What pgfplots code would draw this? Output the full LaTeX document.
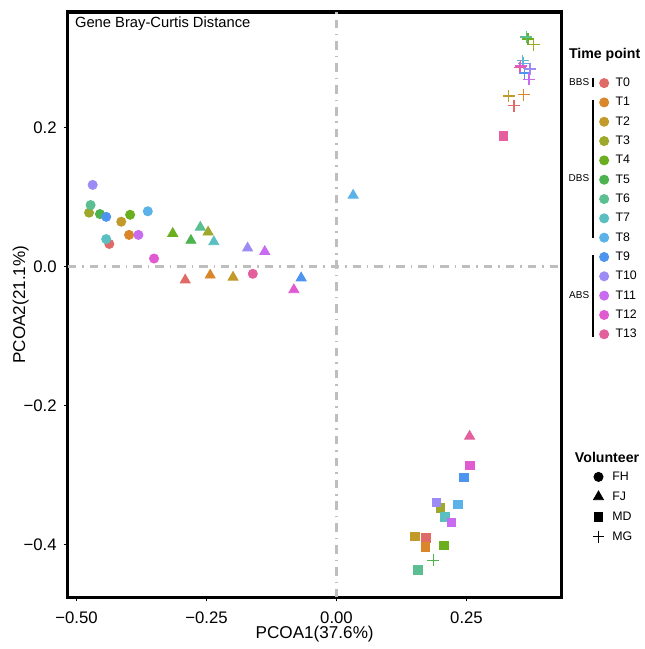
\documentclass[border=0pt]{standalone}
\usepackage{fontspec}
\setmainfont{Liberation Sans}
\usepackage{pgfplots}
\usepackage{pgfplotstable}
\pgfplotsset{compat=1.18}

\definecolor{cT0}{HTML}{E06A66}
\definecolor{cT1}{HTML}{D9872A}
\definecolor{cT2}{HTML}{C29A2A}
\definecolor{cT3}{HTML}{9EA82A}
\definecolor{cT4}{HTML}{6BAF1F}
\definecolor{cT5}{HTML}{4DB34E}
\definecolor{cT6}{HTML}{5CBF92}
\definecolor{cT7}{HTML}{5BBFC2}
\definecolor{cT8}{HTML}{5BB2E8}
\definecolor{cT9}{HTML}{4C94F0}
\definecolor{cT10}{HTML}{9D8BF5}
\definecolor{cT11}{HTML}{C86BF0}
\definecolor{cT12}{HTML}{E05AD2}
\definecolor{cT13}{HTML}{E3609C}
\definecolor{refgrey}{HTML}{BEBEBE}

% volunteer FH (circles)
\pgfplotstableread{
x y t
-0.437 0.033 T0
-0.399 0.046 T1
-0.414 0.065 T2
-0.476 0.078 T3
-0.397 0.075 T4
-0.455 0.076 T5
-0.473 0.089 T6
-0.443 0.040 T7
-0.363 0.080 T8
-0.443 0.072 T9
-0.469 0.118 T10
-0.381 0.046 T11
-0.351 0.012 T12
-0.161 -0.010 T13
}\fh

% volunteer FJ (triangles)
\pgfplotstableread{
x y t
-0.291 -0.019 T0
-0.243 -0.012 T1
-0.199 -0.015 T2
-0.247 0.050 T3
-0.315 0.048 T4
-0.280 0.038 T5
-0.262 0.057 T6
-0.236 0.036 T7
0.032 0.103 T8
-0.068 -0.016 T9
-0.171 0.027 T10
-0.138 0.022 T11
-0.082 -0.033 T12
0.256 -0.244 T13
}\fj

% volunteer MD (squares)
\pgfplotstableread{
x y t
0.172 -0.390 T0
0.171 -0.403 T1
0.151 -0.388 T2
0.200 -0.347 T3
0.206 -0.401 T4
0.157 -0.436 T6
0.208 -0.360 T7
0.234 -0.342 T8
0.245 -0.303 T9
0.192 -0.339 T10
0.221 -0.368 T11
0.256 -0.286 T12
0.321 0.188 T13
}\md

% volunteer MG (crosses)
\pgfplotstableread{
x y t
0.341 0.232 T0
0.360 0.248 T1
0.331 0.246 T2
0.379 0.320 T3
0.368 0.328 T4
0.186 -0.4225 T5
0.365 0.331 T6
0.358 0.297 T7
0.360 0.293 T8
0.362 0.279 T9
0.372 0.285 T10
0.370 0.270 T11
0.354 0.289 T12
0.352 0.287 T13
}\mg

\pgfplotsset{
  tp/.style={scatter, only marks, forget plot, scatter src=explicit symbolic},
  refline/.style={forget plot, refgrey, line width=1.5pt,
    dash pattern=on 4.2pt off 3pt on 0.8pt off 3pt},
}

\begin{document}
\begin{tikzpicture}
\begin{axis}[
  scale only axis, width=248pt, height=294pt,
  xmin=-0.517, xmax=0.433, ymin=-0.476, ymax=0.367,
  clip=false,
  axis line style={line width=1.75pt},
  xtick={-0.5,-0.25,0,0.25}, xticklabels={−0.50,−0.25,0.00,0.25},
  ytick={-0.4,-0.2,0,0.2}, yticklabels={−0.4,−0.2,0.0,0.2},
  tick align=outside, xtick pos=left, ytick pos=left,
  major tick length=2pt,
  tick style={line width=0.5pt, black},
  ticklabel style={font=\fontsize{8.4}{10}\selectfont},
  xticklabel style={yshift=-1.5pt},
  xlabel={PCOA1(37.6\%)}, ylabel={PCOA2(21.1\%)},
  label style={font=\fontsize{8.6}{10}\selectfont},
  xlabel style={at={(rel axis cs:0.5,-0.063)}, anchor=center},
  ylabel style={at={(rel axis cs:-0.095,0.5)}, anchor=center},
  scatter/classes={
    T0={draw=cT0,fill=cT0}, T1={draw=cT1,fill=cT1}, T2={draw=cT2,fill=cT2},
    T3={draw=cT3,fill=cT3}, T4={draw=cT4,fill=cT4}, T5={draw=cT5,fill=cT5},
    T6={draw=cT6,fill=cT6}, T7={draw=cT7,fill=cT7}, T8={draw=cT8,fill=cT8},
    T9={draw=cT9,fill=cT9}, T10={draw=cT10,fill=cT10}, T11={draw=cT11,fill=cT11},
    T12={draw=cT12,fill=cT12}, T13={draw=cT13,fill=cT13}},
  legend image code/.code={\draw[#1] plot coordinates {(0pt,0pt)};},
  legend cell align=left,
  legend style={draw=none, fill=none, inner sep=0pt, outer sep=0pt,
    at={(rel axis cs:1.0768,0.8895)}, anchor=north west,
    font=\fontsize{6.2}{7}\selectfont,
    nodes={inner sep=0pt, text height=5pt, text depth=1.5pt},
    row sep=3.2pt,
    /tikz/every odd column/.append style={column sep=3.4pt}},
]
\addplot[refline] coordinates {(-0.517,0) (0.433,0)};
\addplot[refline] coordinates {(0,-0.476) (0,0.367)};

\addplot[tp, mark=*, mark size=2.3pt] table[x=x, y=y, meta=t] {\fh};
\addplot[tp, mark=triangle*, mark size=2.9pt] table[x=x, y=y, meta=t] {\fj};
\addplot[tp, mark=square*, mark size=2.2pt] table[x=x, y=y, meta=t] {\md};
\addplot[tp, mark=+, mark size=3pt, line width=0.7pt] table[x=x, y=y, meta=t] {\mg};

\addlegendimage{mark=*, mark size=2.3pt, draw=cT0, fill=cT0}\addlegendentry{T0}
\addlegendimage{mark=*, mark size=2.3pt, draw=cT1, fill=cT1}\addlegendentry{T1}
\addlegendimage{mark=*, mark size=2.3pt, draw=cT2, fill=cT2}\addlegendentry{T2}
\addlegendimage{mark=*, mark size=2.3pt, draw=cT3, fill=cT3}\addlegendentry{T3}
\addlegendimage{mark=*, mark size=2.3pt, draw=cT4, fill=cT4}\addlegendentry{T4}
\addlegendimage{mark=*, mark size=2.3pt, draw=cT5, fill=cT5}\addlegendentry{T5}
\addlegendimage{mark=*, mark size=2.3pt, draw=cT6, fill=cT6}\addlegendentry{T6}
\addlegendimage{mark=*, mark size=2.3pt, draw=cT7, fill=cT7}\addlegendentry{T7}
\addlegendimage{mark=*, mark size=2.3pt, draw=cT8, fill=cT8}\addlegendentry{T8}
\addlegendimage{mark=*, mark size=2.3pt, draw=cT9, fill=cT9}\addlegendentry{T9}
\addlegendimage{mark=*, mark size=2.3pt, draw=cT10, fill=cT10}\addlegendentry{T10}
\addlegendimage{mark=*, mark size=2.3pt, draw=cT11, fill=cT11}\addlegendentry{T11}
\addlegendimage{mark=*, mark size=2.3pt, draw=cT12, fill=cT12}\addlegendentry{T12}
\addlegendimage{mark=*, mark size=2.3pt, draw=cT13, fill=cT13}\addlegendentry{T13}

\node[anchor=west, inner sep=0pt, font=\fontsize{7.4}{9}\selectfont]
  at (rel axis cs:0.0141,0.9796) {Gene Bray-Curtis Distance};

% legend titles and brackets
\node[anchor=west, inner sep=0pt, font=\fontsize{7.1}{9}\selectfont\bfseries]
  at (rel axis cs:1.0141,0.9269) {Time point};
\draw[line width=1pt] (rel axis cs:1.0639,0.8878) -- (rel axis cs:1.0639,0.8724);
\draw[line width=1pt] (rel axis cs:1.0639,0.8503) -- (rel axis cs:1.0639,0.6139);
\draw[line width=1pt] (rel axis cs:1.0639,0.5850) -- (rel axis cs:1.0639,0.4456);
\node[anchor=east, inner sep=0pt, font=\fontsize{5}{6}\selectfont]
  at (rel axis cs:1.0565,0.8804) {BBS};
\node[anchor=east, inner sep=0pt, font=\fontsize{5}{6}\selectfont]
  at (rel axis cs:1.0565,0.7160) {DBS};
\node[anchor=east, inner sep=0pt, font=\fontsize{5}{6}\selectfont]
  at (rel axis cs:1.0565,0.5158) {ABS};
\node[anchor=west, inner sep=0pt, font=\fontsize{7.1}{9}\selectfont\bfseries]
  at (rel axis cs:1.0262,0.2400) {Volunteer};

\path (rel axis cs:-0.1371,1.0204) rectangle (rel axis cs:1.1673,-0.0833);
\end{axis}

% second legend (shapes)
\begin{axis}[
  scale only axis, width=248pt, height=294pt, hide axis,
  xmin=0, xmax=1, ymin=0, ymax=1,
  legend image code/.code={\draw[#1] plot coordinates {(0pt,0pt)};},
  legend cell align=left,
  legend style={draw=none, fill=none, inner sep=0pt, outer sep=0pt,
    at={(rel axis cs:1.0625,0.2170)}, anchor=north west,
    font=\fontsize{6.2}{7}\selectfont,
    nodes={inner sep=0pt, text height=5pt, text depth=1.5pt},
    row sep=3.5pt,
    /tikz/every odd column/.append style={column sep=4pt}},
]
\addlegendimage{mark=*, mark size=2.3pt, black}\addlegendentry{FH}
\addlegendimage{mark=triangle*, mark size=2.9pt, black}\addlegendentry{FJ}
\addlegendimage{mark=square*, mark size=2.2pt, black}\addlegendentry{MD}
\addlegendimage{mark=+, mark size=3pt, line width=0.7pt, black}\addlegendentry{MG}
\end{axis}
\end{tikzpicture}
\end{document}
